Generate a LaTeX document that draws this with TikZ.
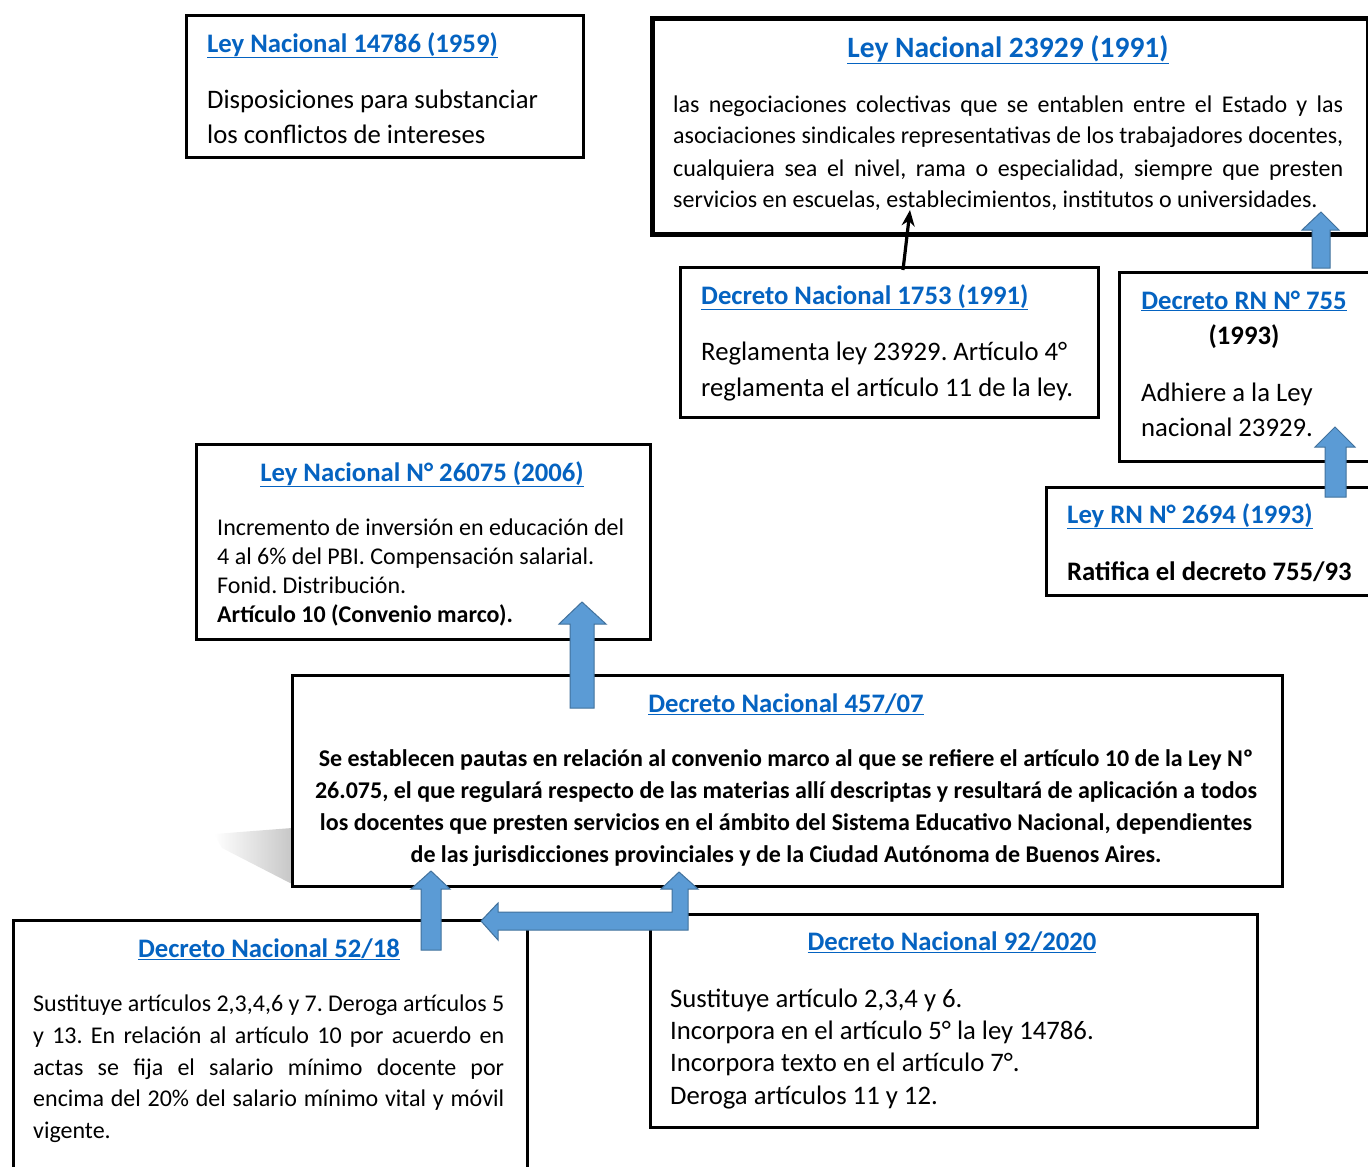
\documentclass[tikz,border=0pt]{standalone}
\usepackage{fontspec}
\setmainfont{Carlito}
\usetikzlibrary{arrows.meta}
\definecolor{linkblue}{HTML}{0563C1}
\definecolor{arrfill}{HTML}{5B9BD5}
\definecolor{arrline}{HTML}{41719C}
\tikzset{
  box/.style={draw=black, line width=3.3pt, fill=white, inner sep=0pt, anchor=north west},
  blk/.style={fill=arrfill, draw=arrline, line width=1pt, line join=miter},
  ttl/.style={text=linkblue, inner sep=0pt, anchor=base, font=\bfseries\fontsize{26.7}{30}\selectfont},
  ttlw/.style={ttl, anchor=base west},
  txt/.style={inner sep=0pt, anchor=base west, font=\fontsize{26.7}{30}\selectfont},
  txts/.style={txt, font=\fontsize{24}{28}\selectfont},
  txtc/.style={txt, anchor=base},
}
\newcommand\jl[2]{\makebox[#1pt][s]{#2}}
\frenchspacing
\begin{document}
\begin{tikzpicture}[x=1pt,y=-1pt]
\useasboundingbox (0,0) rectangle (1368,1167);
% shadow
\shade[left color=white, right color=black!22] (292,828) -- (214,834) -- (222,848) -- (292,884) -- cycle;

% Box 1
\node[box, minimum width=397pt, minimum height=142pt] (b1) at (185,14) {};
\node[ttlw] (t1) at (207,52) {\underline{Ley Nacional 14786 (1959)}};
\node[txt] (l1a) at (207,108) {Disposiciones para substanciar};
\node[txt] (l1b) at (207,143) {los conflictos de intereses};

% Box 2
\node[box, line width=5.2pt, minimum width=716pt, minimum height=216pt] (b2) at (650,16) {};
\node[ttl, font=\bfseries\fontsize{29.5}{32}\selectfont] (t2) at (1008,57) {\underline{Ley Nacional 23929 (1991)}};
\node[txts] (l2a) at (673,112) {\jl{670}{las negociaciones colectivas que se entablen entre el Estado y las}};
\node[txts] (l2b) at (673,143) {\jl{670}{asociaciones sindicales representativas de los trabajadores docentes,}};
\node[txts] (l2c) at (673,176) {\jl{670}{cualquiera sea el nivel, rama o especialidad, siempre que presten}};
\node[txts] (l2d) at (673,207) {servicios en escuelas, establecimientos, institutos o universidades.};

% Box 3
\node[box, minimum width=418pt, minimum height=150pt] (b3) at (679,266) {};
\node[ttlw] (t3) at (701,304) {\underline{Decreto Nacional 1753 (1991)}};
\node[txt] (l3a) at (701,360) {\jl{366}{Reglamenta ley 23929. Artículo 4°}};
\node[txt] (l3b) at (701,396) {\jl{372}{reglamenta el artículo 11 de la ley.}};

% Box 4
\node[box, minimum width=260pt, minimum height=189pt] (b4) at (1118,271) {};
\node[ttl] (t4) at (1244,309) {\underline{Decreto RN N° 755}};
\node[txtc, font=\bfseries\fontsize{26.7}{30}\selectfont] (l4a) at (1244,344) {(1993)};
\node[txt] (l4b) at (1141,401) {Adhiere a la Ley};
\node[txt] (l4c) at (1141,436) {nacional 23929.};

% Box 5
\node[box, minimum width=330pt, minimum height=108pt] (b5) at (1045,486) {};
\node[ttlw] (t5) at (1067,523) {\underline{Ley RN N° 2694 (1993)}};
\node[txt, font=\bfseries\fontsize{26.7}{30}\selectfont] (l5a) at (1067,580) {Ratifica el decreto 755/93};

% Box 6
\node[box, minimum width=454pt, minimum height=195pt] (b6) at (195,443) {};
\node[ttl] (t6) at (422,481) {\underline{Ley Nacional N° 26075 (2006)}};
\node[txts] (l6a) at (217,535) {Incremento de inversión en educación del};
\node[txts] (l6b) at (217,564) {4 al 6\% del PBI. Compensación salarial.};
\node[txts] (l6c) at (217,593) {Fonid. Distribución.};
\node[txts, font=\bfseries\fontsize{24}{28}\selectfont] (l6d) at (217,622) {Artículo 10 (Convenio marco).};

% Box 7
\node[box, minimum width=990pt, minimum height=211pt] (b7) at (291,674) {};
\node[ttl] (t7) at (786,712) {\underline{Decreto Nacional 457/07}};
\node[txtc, font=\bfseries\fontsize{24}{28}\selectfont] (l7a) at (786,766) {Se establecen pautas en relación al convenio marco al que se refiere el artículo 10 de la Ley Nº};
\node[txtc, font=\bfseries\fontsize{24}{28}\selectfont] (l7b) at (786,798) {26.075, el que regulará respecto de las materias allí descriptas y resultará de aplicación a todos};
\node[txtc, font=\bfseries\fontsize{24}{28}\selectfont] (l7c) at (786,830) {los docentes que presten servicios en el ámbito del Sistema Educativo Nacional, dependientes};
\node[txtc, font=\bfseries\fontsize{24}{28}\selectfont] (l7d) at (786,862) {de las jurisdicciones provinciales y de la Ciudad Autónoma de Buenos Aires.};

% Box 8
\node[box, minimum width=514pt, minimum height=260pt] (b8) at (12,919) {};
\node[ttl] (t8) at (269,957) {\underline{Decreto Nacional 52/18}};
\node[txts] (l8a) at (33,1011) {\jl{471}{Sustituye artículos 2,3,4,6 y 7. Deroga artículos 5}};
\node[txts] (l8b) at (33,1043) {\jl{471}{y 13. En relación al artículo 10 por acuerdo en}};
\node[txts] (l8c) at (33,1075) {\jl{471}{actas se fija el salario mínimo docente por}};
\node[txts] (l8d) at (33,1106) {\jl{471}{encima del 20\% del salario mínimo vital y móvil}};
\node[txts] (l8e) at (33,1138) {vigente.};

% Box 9
\node[box, minimum width=607pt, minimum height=213pt] (b9) at (649,913) {};
\node[ttl] (t9) at (952,950) {\underline{Decreto Nacional 92/2020}};
\node[txt] (l9a) at (670,1007) {Sustituye artículo 2,3,4 y 6.};
\node[txt] (l9b) at (670,1039) {Incorpora en el artículo 5° la ley 14786.};
\node[txt] (l9c) at (670,1071) {Incorpora texto en el artículo 7°.};
\node[txt] (l9d) at (670,1104) {Deroga artículos 11 y 12.};

% Arrows
\coordinate (s1) at (903,270);
\coordinate (e1) at (910,210);
\draw[line width=3.2pt, -{Stealth[length=16pt,width=13pt]}] (s1) -- (e1);

% 457 -> 26075
\draw[blk] (582,602) -- (606,624) -- (594,624) -- (594,708) -- (570,708) -- (570,624) -- (559,624) -- cycle;
% 52/18 -> 457
\draw[blk] (431,871) -- (450,889) -- (441,889) -- (441,950) -- (421,950) -- (421,889) -- (411,889) -- cycle;
% bent arrow 92/2020 -> 457 and 52/18
\draw[blk] (679,872) -- (698,889) -- (688,889) -- (688,930) -- (498,930) -- (498,940) -- (481,921) -- (498,903) -- (498,912) -- (672,912) -- (672,889) -- (661,889) -- cycle;
% 755 -> 23929
\draw[blk] (1321,212) -- (1339,230) -- (1330,230) -- (1330,268) -- (1312,268) -- (1312,230) -- (1302,230) -- cycle;
% 2694 -> 755
\draw[blk] (1335,427) -- (1355,447) -- (1346,447) -- (1346,497) -- (1325,497) -- (1325,447) -- (1315,447) -- cycle;
\end{tikzpicture}
\end{document}
